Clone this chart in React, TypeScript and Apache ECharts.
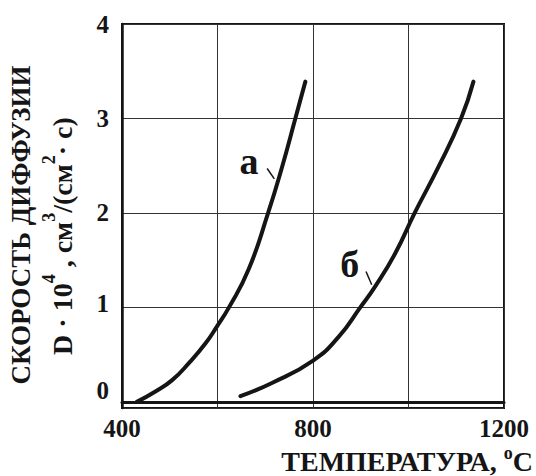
import React, { useEffect, useRef } from "react";
import * as echarts from "echarts";

// Curve "а"
const temperatureA = [431, 470, 505, 540, 575, 599, 624, 665, 706, 736, 763, 784];
const diffusionA = [0.0, 0.11, 0.23, 0.41, 0.62, 0.8, 1.0, 1.4, 2.0, 2.5, 3.0, 3.39];
// Curve "б"
const temperatureB = [648, 714, 801, 854, 899, 930, 972, 1013, 1064, 1110, 1136];
const diffusionB = [0.06, 0.2, 0.44, 0.69, 1.0, 1.22, 1.57, 2.0, 2.5, 3.0, 3.39];

const xTickLabels = [400, 800, 1200];
const yTickLabels = [0, 1, 2, 3, 4];

// annotation anchors in data units: label position, leader line start/end
const labelA = { text: "а", at: [666, 2.55], lead: [[704, 2.47], [719, 2.36]] };
const labelB = { text: "б", at: [877, 1.46], lead: [[911, 1.38], [923, 1.24]] };

const SERIF = '"Liberation Serif", "Times New Roman", "DejaVu Serif", serif';
const INK = "#151515";

function curveSeries(xs: number[], ys: number[], lab: any) {
  return {
    type: "line",
    data: xs.map((x, i) => [x, ys[i]]),
    smooth: 0.5,
    symbol: "none",
    lineStyle: { color: INK, width: 4, cap: "round" },
    silent: true,
    markPoint: {
      symbol: "circle",
      symbolSize: 1,
      itemStyle: { color: "transparent" },
      silent: true,
      label: {
        show: true,
        position: "inside",
        formatter: lab.text,
        fontFamily: SERIF,
        fontWeight: "bold",
        fontSize: 38,
        color: INK,
      },
      data: [{ coord: lab.at }],
    },
    markLine: {
      symbol: ["none", "none"],
      silent: true,
      label: { show: false },
      lineStyle: { color: INK, width: 1.5, type: "solid" },
      data: [[{ coord: lab.lead[0] }, { coord: lab.lead[1] }]],
    },
  };
}

export default function App() {
  const ref = useRef<HTMLDivElement>(null);
  useEffect(() => {
    document.body.style.margin = "0";
    const chart = echarts.init(ref.current!, null, { renderer: "svg" });
    const main = { fontFamily: SERIF, fontWeight: "bold", fontSize: 28, lineHeight: 24, fill: INK };
    const sup = {
      fontFamily: SERIF,
      fontWeight: "bold",
      fontSize: 18,
      lineHeight: 1,
      height: 1,
      padding: [0, 0, 26, 0],
      fill: INK,
    };
    chart.setOption({
      animation: false,
      backgroundColor: "#ffffff",
      grid: {
        left: 122,
        right: 32,
        top: 24,
        bottom: 68,
        show: true,
        borderColor: INK,
        borderWidth: 2,
        backgroundColor: "transparent",
      },
      xAxis: {
        type: "value",
        min: 400,
        max: 1200,
        interval: 200,
        axisLine: { show: true, lineStyle: { color: INK, width: 3 } },
        axisTick: { show: false },
        splitLine: { show: true, lineStyle: { color: "#333", width: 1 } },
        axisLabel: {
          margin: 8,
          fontFamily: SERIF,
          fontWeight: "bold",
          fontSize: 25,
          color: INK,
          formatter: (v: number) => (xTickLabels.includes(v) ? String(v) : ""),
        },
      },
      yAxis: {
        type: "value",
        min: -0.065,
        max: 4,
        splitNumber: 4,
        axisLine: { show: true, lineStyle: { color: INK, width: 2.5 } },
        axisTick: { show: false },
        splitLine: { show: true, lineStyle: { color: "#333", width: 1 } },
        axisLabel: {
          margin: 13,
          fontFamily: SERIF,
          fontWeight: "bold",
          fontSize: 25,
          color: INK,
          formatter: (v: number) => {
            const r = Math.round(v * 1000) / 1000;
            if (!yTickLabels.includes(r)) return "";
            if (r === 0) return "{z|0}";
            if (r === 1) return "{o|1}";
            return String(r);
          },
          rich: {
            z: { fontFamily: SERIF, fontWeight: "bold", fontSize: 25, color: INK, padding: [0, 0, 22, 0] },
            o: { fontFamily: SERIF, fontWeight: "bold", fontSize: 25, color: INK, padding: [0, 0, 8, 0] },
          },
        },
      },
      series: [curveSeries(temperatureA, diffusionA, labelA), curveSeries(temperatureB, diffusionB, labelB)],
      graphic: [
        {
          type: "text",
          x: 21,
          y: 225,
          rotation: Math.PI / 2,
          silent: true,
          style: {
            text: "СКОРОСТЬ ДИФФУЗИИ",
            ...main,
            fontSize: 27,
            align: "center",
            verticalAlign: "middle",
          },
        },
        {
          type: "text",
          x: 62,
          y: 236,
          rotation: Math.PI / 2,
          silent: true,
          style: {
            text: "{m|D · 10}{s|4}{m| , см}{s|3}{m|/(см}{s|2}{m|· с)}",
            ...main,
            align: "center",
            verticalAlign: "middle",
            rich: { m: main, s: sup },
          },
        },
        {
          type: "text",
          x: 533,
          y: 461,
          silent: true,
          style: {
            text: "{m|ТЕМПЕРАТУРА, }{s|o}{m|C}",
            ...main,
            align: "right",
            verticalAlign: "middle",
            rich: { m: main, s: { ...sup, fontSize: 18, padding: [0, 0, 16, 0] } },
          },
        },
      ],
    });
    return () => chart.dispose();
  }, []);
  return <div ref={ref} style={{ width: 536, height: 476 }} />;
}
